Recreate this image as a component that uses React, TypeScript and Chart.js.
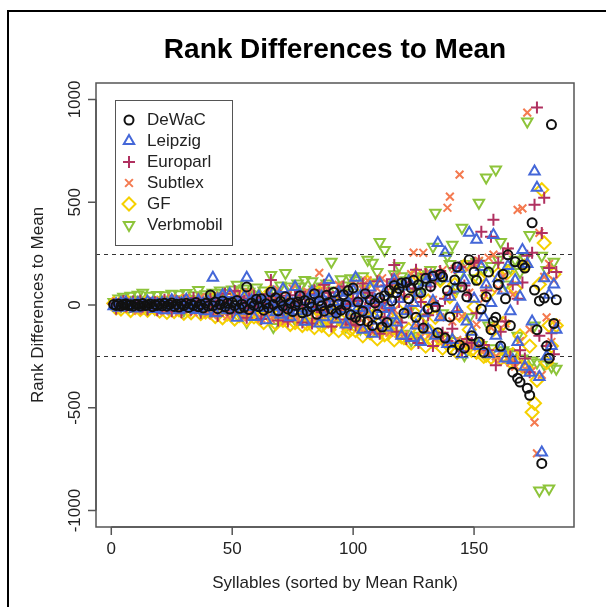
import React, { useEffect, useRef } from "react";
import { Chart, registerables } from "chart.js";
import { drawPoint } from "chart.js/helpers";

Chart.register(...registerables);

const TITLE = "Rank Differences to Mean";
const X_TITLE = "Syllables (sorted by Mean Rank)";
const Y_TITLE = "Rank Differences to Mean";
const X_TICKS = [0, 50, 100, 150];
const Y_TICKS = [-1000, -500, 0, 500, 1000];
const REF_LINES = [250, -250];
const SERIES_NAMES = ["DeWaC", "Leipzig", "Europarl", "Subtlex", "GF", "Verbmobil"];

const dewac = [
  3, -2, 5, -4, 2, 6, -3, 1, -6, 4, 2, -5, 7, -3, 0, 5, -8, 3, -2, 6,
  -4, 8, -6, 2, 10, -7, 4, -10, 6, -3, 9, -12, 5, -2, 12, -8, 3, -14, 8, -5,
  49, -4, 15, -18, 2, 20, -9, 8, -20, 12, -3, 22, -16, 4, -11, 88, -22, 10, -2, 28,
  -8, 30, -25, 6, -14, 63, 2, 35, -28, 18, -5, 40, -20, 10, -32, -2, 15, 45, -38, 22,
  -30, 8, -10, 55, -45, 20, -4, -30, 48, 12, -20, 62, -40, 5, -25, 50, 0, 70, -48, 83,
  -60, 14, -75, -30, 55, -80, 25, -100, 10, -45, 35, -107, 45, -85, 70, 20, 95, 60, 80, 107,
  -40, 110, 30, 83, 120, -60, 98, 60, -112, 130, -20, 90, 140, -10, -135, 150, 137, -161, 70, -58,
  -220, 122, 185, -195, 88, -210, 40, 220, -150, 161, 120, -180, -20, -230, 40, 160, -120, -80, -60, 100,
  -200, 150, 30, 244, -100, -327, 210, -356, -375, 195, 180, -405, -439, 400, 73, -120, 20, -771, 34, -200, -259, 878, -90, 25,
];

const leipzig = [
  -6, 4, -13, 8, -1, 12, -9, 2, 3, -17, 10, -4, 2, -11, 16, -3, 9, -20, 4, -2,
  10, -25, 4, -9, 23, -5, 12, -26, 8, -1, 25, -16, 0, -8, -24, 22, -2, 6, -30, 15,
  -8, 132, -40, 25, -2, 48, 10, -26, 54, -6, 20, -62, 5, -28, 40, 132, -10, 22, -58, -4,
  40, -15, 12, -74, 30, -8, 60, -35, 0, -48, 78, -10, 25, -60, 5, 88, -30, 50, -15, -82,
  -25, 20, 62, -5, 28, -90, 40, -60, 8, 122, -40, 15, -70, 60, -20, 35, -95, 10, -50, 70,
  132, -15, 45, -120, 10, -40, 85, -140, 25, -75, 105, -20, 60, -110, 0, -50, 120, -85, 30, -150,
  90, -30, 115, -160, 10, -100, 60, -180, -40, 110, -120, 140, 20, -150, 302, -60, 130, 254, -190, 40,
  -170, 80, -20, 175, -240, 120, -80, 351, -130, 30, 317, -200, 185, -60, 100, -240, 10, 341, -150, 130,
  -210, 70, -260, 190, -30, -268, 120, -180, 40, 268, -300, 200, -330, -80, 649, 571, -350, -717, 130, -250, 50, -200, 100, -120,
];

const europarl = [
  5, -18, 3, -2, 19, -6, 4, -10, 17, -3, -5, 21, -7, 2, -22, 8, -4, 13, -25, 3,
  -14, 26, -8, 6, -30, 4, 18, 12, -35, 20, -5, 8, -22, 34, -6, 25, -38, 10, -8, 16,
  30, -20, 2, -52, 18, -8, 55, -25, 5, -38, 68, -12, 40, -3, 20, -62, 32, -15, 45, -5,
  18, -68, 8, -20, 52, 122, -10, 25, -75, 45, -28, 8, -80, 30, -12, 48, -5, 65, -85, 10,
  -28, 52, -90, 72, -10, 45, -35, 98, -5, 60, -105, 20, -45, 62, -15, 90, -70, 5, -95, 30,
  -100, 20, -55, 105, -15, 60, -130, 35, -5, 115, -140, 10, -60, 95, -25, 125, 195, -130, 15, -85,
  40, -165, 110, -40, 80, 171, -185, 15, -100, 150, -50, 90, -200, 125, -5, 165, -135, 30, -175, 60,
  -115, 180, -30, 185, -225, 95, -165, 50, -185, 205, -40, 215, 356, -195, 70, -220, 332, 415, -293, 205,
  -130, 250, -80, 275, -250, 100, -280, 30, -220, 110, -260, 240, -327, 254, 488, 961, -150, 350, 522, -200, 180, -137, -240, 160,
];

const subtlex = [
  -4, 17, -9, 3, -16, 10, -2, 18, -11, 5, -27, 12, -3, -19, 14, -5, 22, -15, 6, -28,
  16, -30, 5, -8, 32, -6, 20, -34, 8, -2, 35, -9, 24, -36, 10, -6, 38, -12, 28, -40,
  12, -50, 22, -4, 45, -24, 16, -55, 6, -18, 58, -28, 20, -60, 3, -22, 62, -32, 24, -5,
  35, -66, 8, -38, 28, -70, 40, -10, 75, -42, 12, -78, 45, -15, 80, -48, 8, -82, 50, -20,
  65, -85, 22, -68, 5, 156, -45, 92, -18, 48, -95, 30, -50, 98, -15, 52, -102, 8, -55, 105,
  -70, 18, -118, 75, -22, 120, -78, 35, -125, 80, -8, 130, -85, 12, -135, 90, -25, 140, -92, 40,
  -145, 100, -15, 150, 255, -100, 40, -155, 254, -35, 160, -140, 25, -165, 150, -60, 170, -175, 473, 527,
  -80, 175, -170, 634, -55, 185, -190, 60, -205, 200, -95, 215, -225, 30, -235, 230, -110, 245, -250, 80,
  -265, 140, -90, 260, -280, 50, -300, 463, -175, 470, -310, 936, -120, -320, -571, -722, 351, -340, 137, -60, 200, -180, 120, -90,
];

const gf = [
  8, -15, 2, -20, 6, -3, 11, -27, 4, -12, 8, -22, -13, 9, -26, 4, -4, -16, 10, -30,
  -18, 12, -36, 6, -14, -32, 8, -24, 16, -40, -10, 12, -38, -2, -8, 20, -42, 4, -34, -12,
  -36, 26, -56, 10, -30, -62, 8, -44, 32, -20, -68, -2, -52, 38, -26, -72, 12, -42, -58, 20,
  -62, 30, -85, -15, -48, 66, -35, -90, 22, -40, -75, -58, -10, -95, 48, -85, -30, -65, -100, 25,
  -92, 40, -58, -110, -20, 62, -100, -40, -66, -120, 5, -85, -30, -125, -75, 35, -92, -130, -118, -10,
  -125, 42, -100, -150, -30, 110, -135, -60, -115, -165, 10, -120, -145, -50, -125, 80, -170, -110, -30, -155,
  -160, 60, -120, -185, -35, 150, -170, -90, -145, -200, 20, -130, -180, -60, -155, 120, -210, -165, -190, 40,
  -175, 100, -230, -50, -210, 190, -185, -120, -220, -10, -230, 130, -200, -250, -245, 60, -255, -120, -235, 150,
  -260, -90, -250, 160, -275, -240, 80, -290, -150, -300, 190, -310, -200, -522, -478, -366, 100, 561, 302, -280, -100, -200, 150, -100,
];

const verbmobil = [
  15, -10, 32, -6, 40, 12, -15, 45, -8, 25, 50, -12, 59, 18, -20, 45, 10, -18, 49, 22,
  -14, 48, 15, -22, 55, 28, -16, 52, 20, -25, 58, 30, -18, 48, 25, 73, -28, 40, 52, -10,
  35, 60, -32, 45, 70, -5, 58, 40, -38, 75, -20, 98, -40, 55, 80, -83, 65, -45, 50, 85,
  -50, 40, 70, -15, 35, 146, -107, 60, -60, 95, 20, 156, -65, 90, 10, -70, 105, 90, -35, 122,
  60, -80, 115, 75, -25, 50, 90, -90, 105, -30, 210, -95, 70, -40, 125, 95, -105, 60, 130, -60,
  120, -40, -115, 140, 80, 220, -20, 205, 110, 161, 307, -125, 268, 30, -130, 100, 150, -80, 190, 140,
  -140, 120, -30, -171, 130, 60, -150, 140, 90, -60, 150, 170, 283, 449, -160, 120, -40, -165, 240, 200,
  293, -175, 80, 150, 376, -244, 200, -60, -185, 130, 210, 498, -195, 170, 620, -100, 190, -210, 659, 220,
  307, -220, 100, -230, 180, -240, 220, -150, 160, -260, 230, 893, 341, -270, -100, -280, -902, 240, -290, 170, -893, -300, 210, -310,
];

const SERIES_VALUES = [dewac, leipzig, europarl, subtlex, gf, verbmobil];
const SERIES_COLORS = ["#111111", "#4467d8", "#b03060", "#f47a50", "#f5d000", "#8dc43a"];
const SERIES_STYLES = ["circle", "triangle", "cross", "crossRot", "rectRot", "triangle"];
const SERIES_ROTATION = [0, 0, 0, 0, 0, 180];
const SERIES_RADIUS = [4.5, 6, 6, 5.5, 6.5, 6];

const FONT = "'Liberation Sans', Arial, Helvetica, sans-serif";

const rPlugin = {
  id: "rstyle",
  afterDatasetsDraw(chart: any) {
    const { ctx, chartArea: a, scales } = chart;
    const y = scales.y;
    ctx.save();
    ctx.strokeStyle = "#333";
    ctx.lineWidth = 1;
    ctx.setLineDash([4, 4]);
    for (const v of REF_LINES) {
      const py = Math.round(y.getPixelForValue(v)) + 0.5;
      ctx.beginPath();
      ctx.moveTo(a.left, py);
      ctx.lineTo(a.right, py);
      ctx.stroke();
    }
    ctx.restore();
  },
  afterDraw(chart: any) {
    const { ctx, chartArea: a, scales } = chart;
    const x = scales.x;
    const y = scales.y;
    ctx.save();
    // outer frame
    ctx.strokeStyle = "#000";
    ctx.lineWidth = 2;
    ctx.beginPath();
    ctx.moveTo(8, 607);
    ctx.lineTo(8, 11);
    ctx.lineTo(606, 11);
    ctx.stroke();

    // plot box
    ctx.strokeStyle = "#555";
    ctx.lineWidth = 1.5;
    ctx.strokeRect(a.left, a.top, a.right - a.left, a.bottom - a.top);

    // x axis
    ctx.beginPath();
    const xs = X_TICKS.map((v) => x.getPixelForValue(v));
    ctx.moveTo(xs[0], a.bottom);
    ctx.lineTo(xs[xs.length - 1], a.bottom);
    for (const px of xs) {
      ctx.moveTo(px, a.bottom);
      ctx.lineTo(px, a.bottom + 8);
    }
    ctx.stroke();

    // y axis
    ctx.beginPath();
    const ys = Y_TICKS.map((v) => y.getPixelForValue(v));
    ctx.moveTo(a.left, ys[0]);
    ctx.lineTo(a.left, ys[ys.length - 1]);
    for (const py of ys) {
      ctx.moveTo(a.left, py);
      ctx.lineTo(a.left - 8, py);
    }
    ctx.stroke();

    ctx.fillStyle = "#222";
    ctx.font = `17px ${FONT}`;
    ctx.textAlign = "center";
    ctx.textBaseline = "middle";
    X_TICKS.forEach((v, i) => ctx.fillText(String(v), xs[i], 549));
    Y_TICKS.forEach((v, i) => {
      ctx.save();
      ctx.translate(75, ys[i]);
      ctx.rotate(-Math.PI / 2);
      ctx.fillText(String(v), 0, 0);
      ctx.restore();
    });

    // axis titles
    ctx.font = `17px ${FONT}`;
    ctx.fillText(X_TITLE, (a.left + a.right) / 2, 583);
    ctx.save();
    ctx.translate(38, (a.top + a.bottom) / 2);
    ctx.rotate(-Math.PI / 2);
    ctx.fillText(Y_TITLE, 0, 0);
    ctx.restore();

    // main title
    ctx.fillStyle = "#000";
    ctx.font = `bold 28px ${FONT}`;
    ctx.fillText(TITLE, (a.left + a.right) / 2, 50);

    // legend
    const lx = 115, ly = 100, lw = 117, lh = 145;
    ctx.fillStyle = "#fff";
    ctx.fillRect(lx, ly, lw, lh);
    ctx.strokeStyle = "#555";
    ctx.lineWidth = 1;
    ctx.strokeRect(lx + 0.5, ly + 0.5, lw, lh);
    ctx.font = `17px ${FONT}`;
    ctx.textAlign = "left";
    SERIES_NAMES.forEach((name, i) => {
      const cy = 120 + i * 21;
      ctx.save();
      ctx.strokeStyle = SERIES_COLORS[i];
      ctx.fillStyle = "rgba(0,0,0,0)";
      ctx.lineWidth = 2;
      drawPoint(
        ctx,
        {
          pointStyle: SERIES_STYLES[i],
          rotation: SERIES_ROTATION[i],
          radius: SERIES_RADIUS[i],
          borderWidth: 2,
        } as any,
        129,
        cy
      );
      ctx.restore();
      ctx.fillStyle = "#222";
      ctx.fillText(name, 147, cy);
    });
    ctx.restore();
  },
};

export default function App() {
  const ref = useRef<HTMLCanvasElement | null>(null);
  useEffect(() => {
    if (!ref.current) return;
    const datasets = SERIES_NAMES.map((name, i) => ({
      label: name,
      data: SERIES_VALUES[i].map((v, k) => ({ x: k + 1, y: v })),
      showLine: false,
      pointStyle: SERIES_STYLES[i],
      pointRotation: SERIES_ROTATION[i],
      pointRadius: SERIES_RADIUS[i],
      pointBorderWidth: 2,
      pointBorderColor: SERIES_COLORS[i],
      pointBackgroundColor: "rgba(0,0,0,0)",
      borderColor: SERIES_COLORS[i],
      backgroundColor: "rgba(0,0,0,0)",
    }));
    const chart = new Chart(ref.current, {
      type: "scatter",
      data: { datasets },
      options: {
        animation: false,
        responsive: false,
        devicePixelRatio: 1,
        events: [],
        layout: { padding: { left: 96, right: 32, top: 83, bottom: 80 } },
        scales: {
          x: { type: "linear", min: -6.32, max: 191.32, display: false },
          y: { type: "linear", min: -1080, max: 1080, display: false },
        },
        plugins: { legend: { display: false }, tooltip: { enabled: false }, title: { display: false } },
      },
      plugins: [rPlugin],
    } as any);
    return () => chart.destroy();
  }, []);
  return (
    <div style={{ position: "fixed", left: 0, top: 0, width: 606, height: 607, background: "#fff" }}>
      <canvas ref={ref} width={606} height={607} style={{ display: "block" }} />
    </div>
  );
}
